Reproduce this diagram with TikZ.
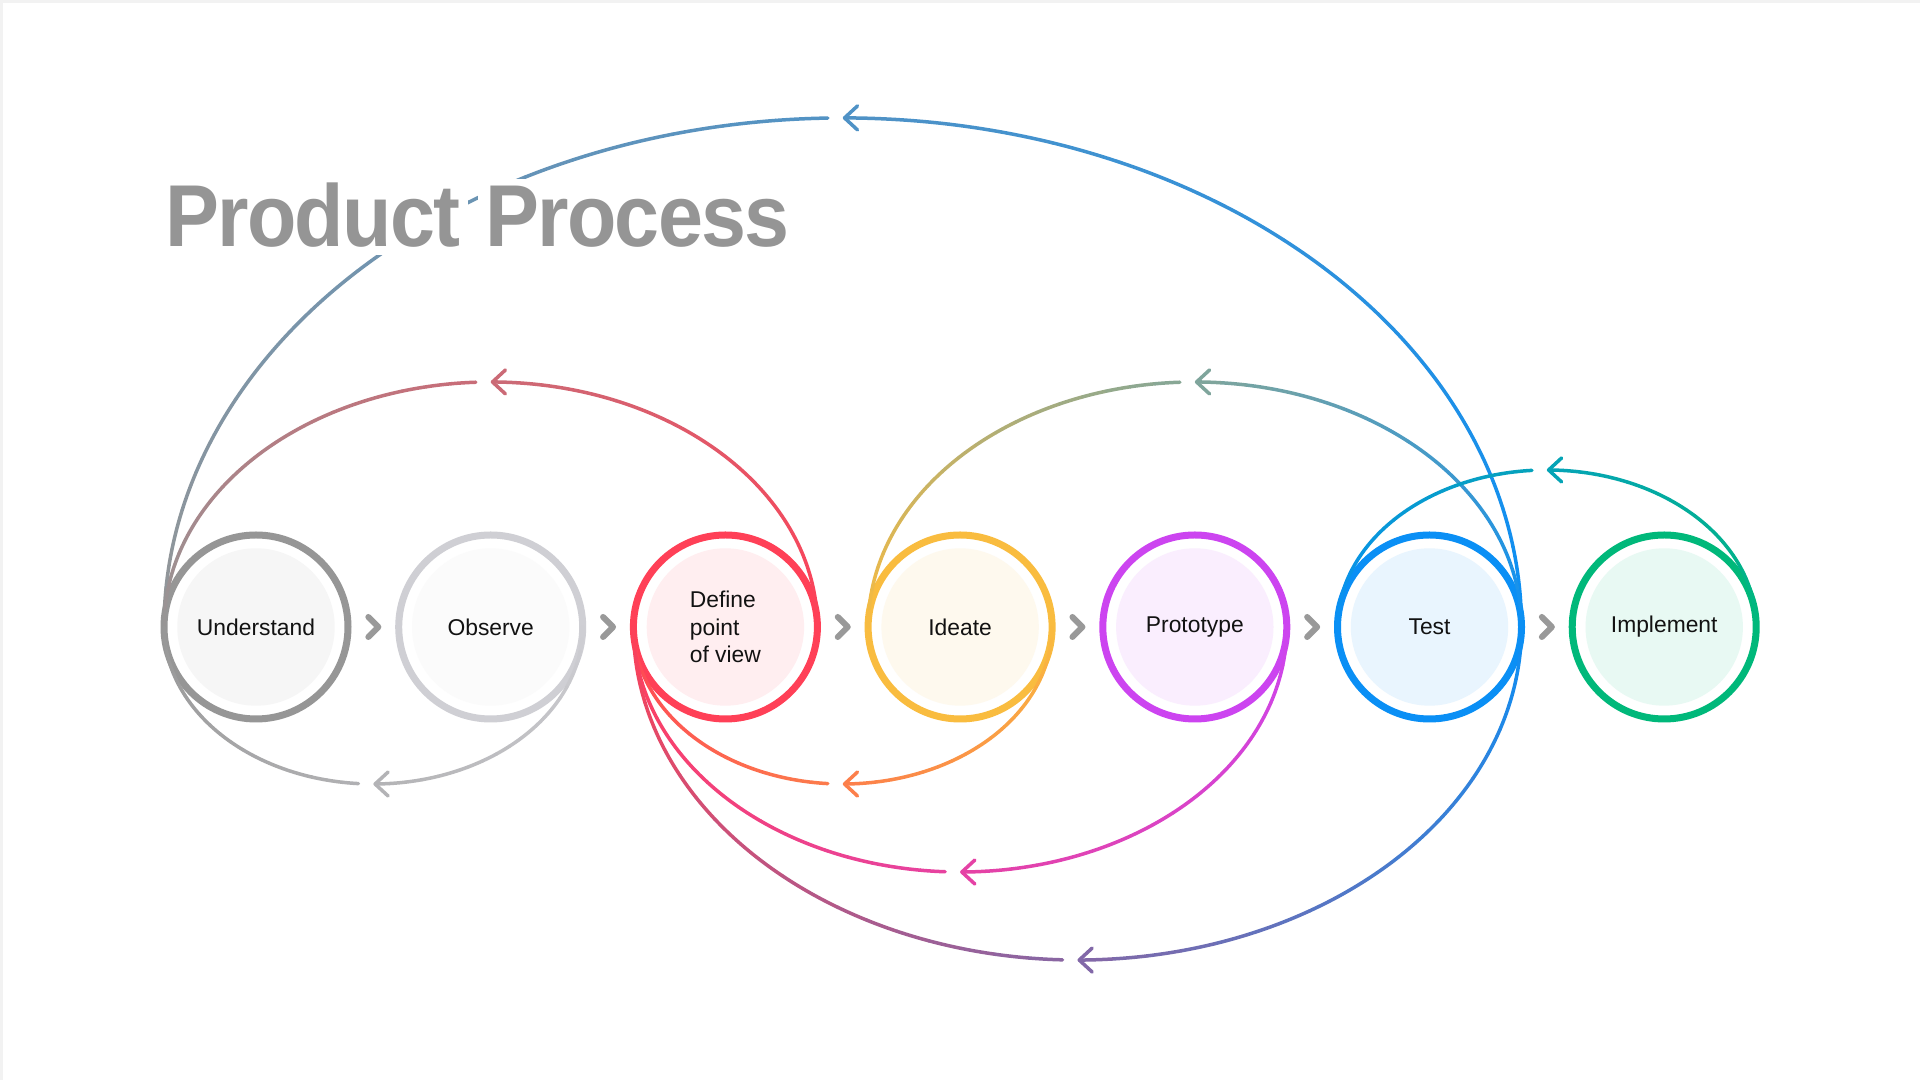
\documentclass[tikz,border=0pt]{standalone}
\usepackage{fontspec}
\setmainfont{Liberation Sans}
\newfontfamily\titlefont{Liberation Sans}[FakeStretch=0.92, LetterSpace=-2]
\usetikzlibrary{arrows.meta,positioning,calc}

\definecolor{undgrey}{HTML}{969696}
\definecolor{obsgrey}{HTML}{CFCFD4}
\definecolor{defred}{HTML}{FF4057}
\definecolor{ideayellow}{HTML}{F9BC3F}
\definecolor{protopurple}{HTML}{CC44F0}
\definecolor{testblue}{HTML}{0A8FF5}
\definecolor{implgreen}{HTML}{00B87A}
\definecolor{chevgrey}{HTML}{999999}
\definecolor{titlegrey}{HTML}{959595}

% feedback loop: #1 left anchor, #2 right anchor, #3 1 above / -1 below,
% #4 colour at the left end, #5 colour at the right end
\newcommand{\backloop}[5]{%
  \path (#1); \pgfgetlastxy{\blxa}{\blya}
  \path (#2); \pgfgetlastxy{\blxb}{\blyb}
  \pgfmathsetmacro\blrx{(\blxb-\blxa)/2}
  \pgfmathsetmacro\blry{0.75*\blrx}
  \pgfmathsetmacro\blgap{asin(8.5/\blrx)}
  \coordinate (blc) at ($(#1)!0.5!(#2)$);
  % left half, stops short of the tip
  \foreach \seg in {0,...,19} {
    \pgfmathsetmacro\ua{\seg*(90-\blgap)/20}
    \pgfmathsetmacro\ub{(\seg+1)*(90-\blgap)/20}
    \pgfmathsetmacro\pc{(\ua+\ub)/3.6}
    \draw[backline, #5!\pc!#4] (blc) ++({180-(#3)*\ua}:\blrx pt and \blry pt)
      arc[start angle={180-(#3)*\ua}, end angle={180-(#3)*\ub},
      x radius=\blrx pt, y radius=\blry pt];
  }
  % right half, from the later stage back to the tip
  \foreach \seg in {0,...,18} {
    \pgfmathsetmacro\ua{180-\seg*4.5}
    \pgfmathsetmacro\ub{180-(\seg+1)*4.5}
    \pgfmathsetmacro\pc{(\ua+\ub)/3.6}
    \draw[backline, #5!\pc!#4] (blc) ++({180-(#3)*\ua}:\blrx pt and \blry pt)
      arc[start angle={180-(#3)*\ua}, end angle={180-(#3)*\ub},
      x radius=\blrx pt, y radius=\blry pt];
  }
  \draw[backline, #5!51!#4, -{Straight Barb[length=2.6mm,width=4.8mm,round]}]
    (blc) ++({180-(#3)*94.5}:\blrx pt and \blry pt)
    arc[start angle={180-(#3)*94.5}, end angle={180-(#3)*90},
    x radius=\blrx pt, y radius=\blry pt];
}

\begin{document}
\begin{tikzpicture}[
  node distance=1.014cm,
  stage/.style={circle, minimum size=3.68cm, outer sep=0pt, line width=0.14cm,
    draw=#1, fill=white, text=black!93, align=left,
    font=\fontsize{13}{15.7}\selectfont,
    path picture={\fill[#1!9] (path picture bounding box.center) circle (1.574cm);}},
  backline/.style={line width=0.07cm, line cap=round},
  nextmark/.style={chevgrey, line width=0.12cm, line cap=round, line join=round},
  heading/.style={font=\titlefont\bfseries\fontsize{50}{56}\selectfont,
    text=titlegrey, fill=white, inner sep=0.15cm}
]
\useasboundingbox (0,0) rectangle (38.4,21.6);
\fill[white] (0,0) rectangle (38.4,21.6);
\draw[black!5, line width=0.06cm] (0.03,0) -- (0.03,21.57) -- (38.4,21.57);

% The seven stages.
\node[stage=undgrey] (und) at (5.12,9.06) {Understand};
\node[stage=obsgrey, right=of und] (obs) {Observe};
\node[stage=defred, right=of obs] (def) {Define\\point\\of view};
\node[stage=ideayellow, right=of def] (idea) {Ideate};
\node[stage=protopurple, right=of idea] (proto) {Prototype};
\node[stage=testblue, right=of proto] (test) {Test};
\node[stage=implgreen, right=of test] (impl) {Implement};

\foreach \a/\b in {und/obs, obs/def, def/idea, idea/proto, proto/test, test/impl}
  \draw[nextmark] ($(\a.east)!0.5!(\b.west)$) ++(-0.1,0.2) -- ++(0.2,-0.2) -- ++(-0.2,-0.2);

% Loops back to earlier stages.
\backloop{und.west}{test.east}{1}{undgrey}{testblue}
\backloop{und.west}{def.east}{1}{undgrey}{defred}
\backloop{und.west}{obs.east}{-1}{undgrey}{obsgrey}
\backloop{def.west}{idea.east}{-1}{defred}{ideayellow}
\backloop{def.west}{proto.east}{-1}{defred}{protopurple}
\backloop{def.west}{test.east}{-1}{defred}{testblue}
\backloop{idea.west}{test.east}{1}{ideayellow}{testblue}
\backloop{test.west}{impl.east}{1}{testblue}{implgreen}

% Title, knocked out of the big loop.
\node[heading, anchor=base west] (ttlA) at (3.15,16.66) {Product};
\node[heading, anchor=base west] (ttlB) at ($(ttlA.base east)+(0.19,0)$) {Process};
\end{tikzpicture}
\end{document}
